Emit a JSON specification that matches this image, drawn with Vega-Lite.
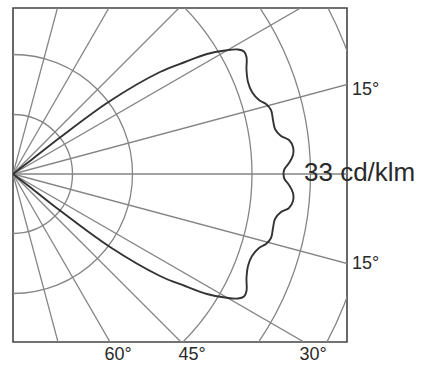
{
  "$schema": "https://vega.github.io/schema/vega-lite/v6.json",
  "width": 334,
  "height": 334,
  "autosize": {"type": "none"},
  "padding": {"left": 13, "top": 8, "right": 80, "bottom": 26},
  "background": "white",
  "config": {
    "view": {"stroke": "#444444", "strokeWidth": 1.6},
    "text": {"font": "Liberation Sans", "color": "#2a2a2a"}
  },
  "layer": [
    {
      "data": {"values": [
        {"cx": 0, "cy": 0, "r": 59.5},
        {"cx": 0, "cy": 0, "r": 119.5},
        {"cx": 0, "cy": 0, "r": 239},
        {"cx": 0, "cy": 0, "r": 297.5},
        {"cx": 0, "cy": 0, "r": 356}
      ]},
      "mark": {"type": "arc", "filled": false, "stroke": "#858585", "strokeWidth": 1.3, "clip": true, "theta": 0, "theta2": 6.2832},
      "encoding": {
        "x": {"field": "cx", "type": "quantitative", "scale": {"domain": [0, 334], "nice": false, "zero": false}, "axis": null},
        "y": {"field": "cy", "type": "quantitative", "scale": {"domain": [-168, 166], "nice": false, "zero": false}, "axis": null},
        "radius": {"field": "r", "type": "quantitative", "stack": null, "scale": {"type": "linear", "domain": [0, 334], "range": [0, 334], "zero": true}, "legend": null}
      }
    },
    {
      "data": {"values": [
        {"angle": 0, "x0": 0, "y0": 0, "ex": 500, "ey": 0},
        {"angle": 15, "x0": 0, "y0": 0, "ex": 483.0, "ey": 129.4},
        {"angle": 30, "x0": 0, "y0": 0, "ex": 433.0, "ey": 250},
        {"angle": 45, "x0": 0, "y0": 0, "ex": 353.6, "ey": 353.6},
        {"angle": 60, "x0": 0, "y0": 0, "ex": 250, "ey": 433.0},
        {"angle": 75, "x0": 0, "y0": 0, "ex": 129.4, "ey": 483.0},
        {"angle": -15, "x0": 0, "y0": 0, "ex": 483.0, "ey": -129.4},
        {"angle": -30, "x0": 0, "y0": 0, "ex": 433.0, "ey": -250},
        {"angle": -45, "x0": 0, "y0": 0, "ex": 353.6, "ey": -353.6},
        {"angle": -60, "x0": 0, "y0": 0, "ex": 250, "ey": -433.0},
        {"angle": -75, "x0": 0, "y0": 0, "ex": 129.4, "ey": -483.0}
      ]},
      "mark": {"type": "rule", "stroke": "#858585", "strokeWidth": 1.3, "clip": true},
      "encoding": {
        "x": {"field": "x0", "type": "quantitative", "scale": {"domain": [0, 334], "nice": false, "zero": false}, "axis": null},
        "y": {"field": "y0", "type": "quantitative", "scale": {"domain": [-168, 166], "nice": false, "zero": false}, "axis": null},
        "x2": {"field": "ex"},
        "y2": {"field": "ey"}
      }
    },
    {
      "data": {"values": [
        {"i": 1, "x": 0, "y": 0},
        {"i": 2, "x": 17, "y": 13},
        {"i": 3, "x": 47, "y": 36.5},
        {"i": 4, "x": 97, "y": 73},
        {"i": 5, "x": 147, "y": 102},
        {"i": 6, "x": 172, "y": 112},
        {"i": 7, "x": 194, "y": 120},
        {"i": 8, "x": 212, "y": 123.5},
        {"i": 9, "x": 225, "y": 124.5},
        {"i": 10, "x": 231, "y": 122.5},
        {"i": 11, "x": 233.5, "y": 117},
        {"i": 12, "x": 233.5, "y": 104},
        {"i": 13, "x": 235, "y": 92},
        {"i": 14, "x": 239, "y": 82},
        {"i": 15, "x": 246, "y": 74},
        {"i": 16, "x": 253, "y": 70},
        {"i": 17, "x": 258, "y": 64},
        {"i": 18, "x": 260, "y": 54},
        {"i": 19, "x": 262, "y": 45},
        {"i": 20, "x": 268, "y": 38},
        {"i": 21, "x": 276, "y": 34},
        {"i": 22, "x": 280, "y": 27},
        {"i": 23, "x": 280, "y": 19},
        {"i": 24, "x": 276, "y": 11},
        {"i": 25, "x": 271.5, "y": 5},
        {"i": 26, "x": 270.5, "y": 0},
        {"i": 27, "x": 271.5, "y": -5},
        {"i": 28, "x": 276, "y": -11},
        {"i": 29, "x": 280, "y": -19},
        {"i": 30, "x": 280, "y": -27},
        {"i": 31, "x": 276, "y": -34},
        {"i": 32, "x": 268, "y": -38},
        {"i": 33, "x": 262, "y": -45},
        {"i": 34, "x": 260, "y": -54},
        {"i": 35, "x": 258, "y": -64},
        {"i": 36, "x": 253, "y": -70},
        {"i": 37, "x": 246, "y": -74},
        {"i": 38, "x": 239, "y": -82},
        {"i": 39, "x": 235, "y": -92},
        {"i": 40, "x": 233.5, "y": -104},
        {"i": 41, "x": 233.5, "y": -117},
        {"i": 42, "x": 231, "y": -122.5},
        {"i": 43, "x": 225, "y": -124.5},
        {"i": 44, "x": 212, "y": -123.5},
        {"i": 45, "x": 194, "y": -120},
        {"i": 46, "x": 172, "y": -112},
        {"i": 47, "x": 147, "y": -102},
        {"i": 48, "x": 97, "y": -73},
        {"i": 49, "x": 47, "y": -36.5},
        {"i": 50, "x": 17, "y": -13},
        {"i": 51, "x": 0, "y": 0}
      ]},
      "mark": {"type": "line", "stroke": "#333333", "strokeWidth": 1.9, "interpolate": "catmull-rom", "clip": true},
      "encoding": {
        "x": {"field": "x", "type": "quantitative", "scale": {"domain": [0, 334], "nice": false, "zero": false}, "axis": null},
        "y": {"field": "y", "type": "quantitative", "scale": {"domain": [-168, 166], "nice": false, "zero": false}, "axis": null},
        "order": {"field": "i", "type": "quantitative"}
      }
    },
    {
      "data": {"values": [
        {"label": "15°", "x": 339, "y": 84},
        {"label": "15°", "x": 339, "y": -90}
      ]},
      "mark": {"type": "text", "align": "left", "baseline": "middle", "fontSize": 18},
      "encoding": {
        "x": {"field": "x", "type": "quantitative", "scale": {"domain": [0, 334], "nice": false, "zero": false}, "axis": null},
        "y": {"field": "y", "type": "quantitative", "scale": {"domain": [-168, 166], "nice": false, "zero": false}, "axis": null},
        "text": {"field": "label"}
      }
    },
    {
      "data": {"values": [
        {"label": "60°", "x": 105, "y": -181},
        {"label": "45°", "x": 179, "y": -181},
        {"label": "30°", "x": 300, "y": -181}
      ]},
      "mark": {"type": "text", "align": "center", "baseline": "middle", "fontSize": 18},
      "encoding": {
        "x": {"field": "x", "type": "quantitative", "scale": {"domain": [0, 334], "nice": false, "zero": false}, "axis": null},
        "y": {"field": "y", "type": "quantitative", "scale": {"domain": [-168, 166], "nice": false, "zero": false}, "axis": null},
        "text": {"field": "label"}
      }
    },
    {
      "data": {"values": [{"label": "33 cd/klm", "x": 291, "y": 1}]},
      "mark": {"type": "text", "align": "left", "baseline": "middle", "fontSize": 26},
      "encoding": {
        "x": {"field": "x", "type": "quantitative", "scale": {"domain": [0, 334], "nice": false, "zero": false}, "axis": null},
        "y": {"field": "y", "type": "quantitative", "scale": {"domain": [-168, 166], "nice": false, "zero": false}, "axis": null},
        "text": {"field": "label"}
      }
    }
  ]
}
